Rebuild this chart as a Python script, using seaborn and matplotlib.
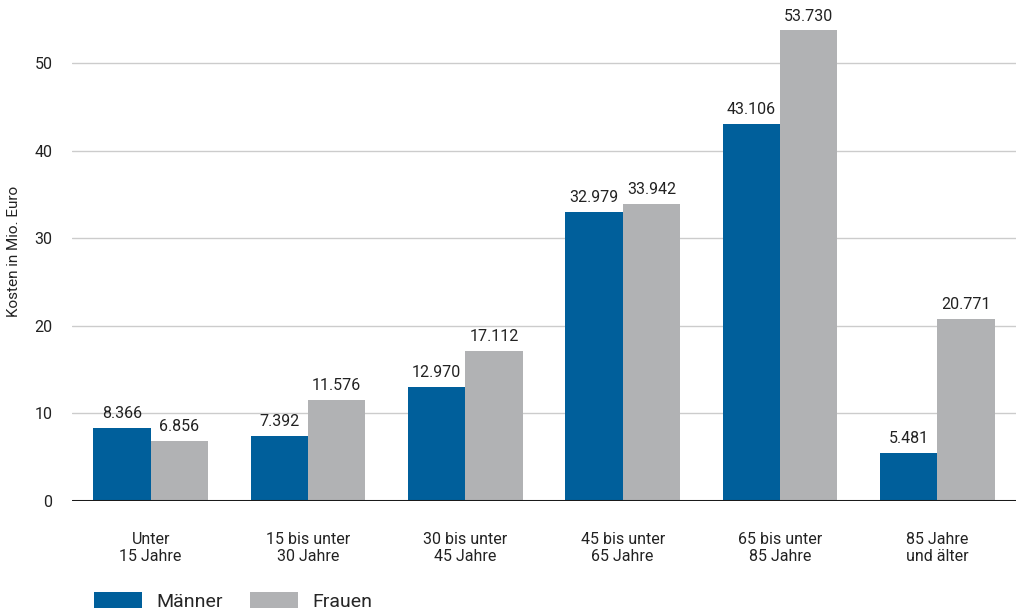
import matplotlib
import pandas as pd
import seaborn as sns
from matplotlib import pyplot as plt

groups = ["Unter\n15 Jahre", "15 bis unter\n30 Jahre", "30 bis unter\n45 Jahre",
          "45 bis unter\n65 Jahre", "65 bis unter\n85 Jahre", "85 Jahre\nund älter"]
maenner = [8.366, 7.392, 12.970, 32.979, 43.106, 5.481]
frauen = [6.856, 11.576, 17.112, 33.942, 53.730, 20.771]
series = ["Männer", "Frauen"]
colors = ["#005f9b", "#b1b2b4"]

df = pd.DataFrame({
    "Gruppe": groups * 2,
    "Geschlecht": [series[0]] * len(groups) + [series[1]] * len(groups),
    "Kosten": maenner + frauen,
})

sns.set_style("white")
plt.rcParams["font.family"] = ["Roboto", "DejaVu Sans"]

fig = plt.figure(figsize=(10.18, 6.14), dpi=100)
ax = fig.add_axes([0.0707, 0.184, 0.9273, 0.813])
sns.barplot(data=df, x="Gruppe", y="Kosten", hue="Geschlecht", palette=colors,
            width=0.73, saturation=1, linewidth=0, ax=ax, legend=False)

ax.set_xlim(-0.5, 5.5)
ax.set_ylim(0, 57)
ax.set_yticks(range(0, 60, 10))
ax.yaxis.grid(True, color="#cccccc", linewidth=1)
ax.set_axisbelow(True)
ax.axhline(0, color="#1a1a1a", linewidth=2.2, zorder=5)
for s in ax.spines.values():
    s.set_visible(False)
ax.tick_params(axis="both", length=0, labelsize=11.5, colors="#222222")
ax.tick_params(axis="x", pad=22)
ax.tick_params(axis="y", pad=14)
ax.set_xlabel("")
ax.set_ylabel("Kosten in Mio. Euro", fontsize=11, color="#222222", labelpad=10)

for cont in ax.containers:
    labels = [f"{v:.3f}" for v in cont.datavalues]
    ax.bar_label(cont, labels=labels, padding=5, fontsize=11.5, color="#222222")

handles = [matplotlib.patches.Patch(color=c, linewidth=0) for c in colors]
fig.legend(handles, series, loc="lower left", bbox_to_anchor=(0.081, -0.014),
           ncol=2, frameon=False, fontsize=14, handlelength=2.45, handleheight=0.85,
           columnspacing=1.4, handletextpad=0.75, borderaxespad=0.2)

fig.savefig("out.png", dpi=100)
